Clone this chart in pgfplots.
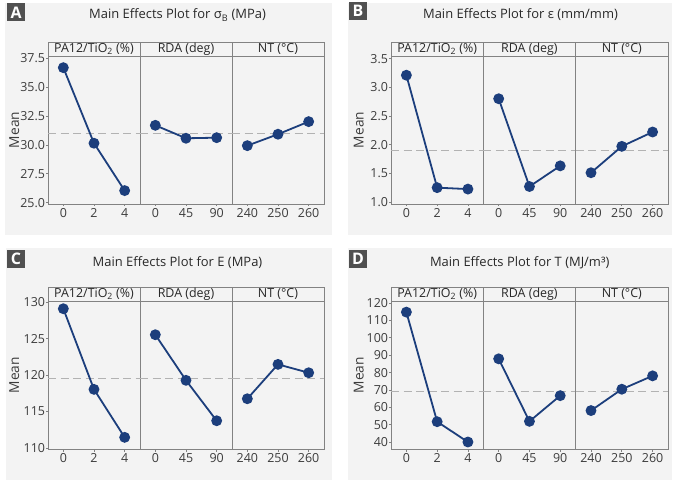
\documentclass[border=0pt]{standalone}
\usepackage{pgfplots}
\pgfplotsset{compat=1.18}
\usepackage{fontspec}
\setmainfont{Open Sans}
\definecolor{bg}{RGB}{243,243,243}
\definecolor{frame}{RGB}{130,130,130}
\definecolor{tick}{RGB}{60,60,60}
\definecolor{ttl}{RGB}{40,40,40}
\definecolor{ser}{RGB}{28,62,124}
\definecolor{meanc}{RGB}{178,178,178}
\definecolor{boxc}{RGB}{80,80,80}
\pgfplotsset{
  sub/.style={scale only axis, width=92bp, height=148bp, anchor=south west,
    xmin=-0.5, xmax=2.5, xtick={0,1,2},
    axis line style={draw=frame, line width=0.9bp},
    every tick/.style={draw=frame, line width=0.7bp},
    major tick length=2.2bp, tick align=outside,
    xtick pos=left, ytick pos=left,
    ticklabel style={font=\fontsize{12.5}{14}\selectfont, text=tick},
    yticklabel style={inner sep=0.6bp},
    xticklabel style={inner sep=2bp},
    /pgf/number format/assume math mode=true,
    clip=false},
  first/.style={ylabel=Mean,
    ylabel style={font=\fontsize{13.8}{15}\selectfont, text=tick,
      at={(axis description cs:-0.367,0.5)}, anchor=center}},
  other/.style={ytick=\empty},
  ser/.style={color=ser, line width=1.8bp, mark=*, mark size=4.5bp, mark options={fill=ser, draw=ser}},
  meanl/.style={color=meanc, line width=1.6bp, dash pattern=on 8bp off 4.5bp},
}
\newcommand{\hdr}[4]{% x1 x2 ytop text
  \draw[draw=frame, line width=0.9bp, fill=bg] (#1bp,-#3bp) rectangle (#2bp,-\the\numexpr#3+14\relax bp);
  \node[font=\fontsize{12.5}{14}\selectfont, text=ttl, inner sep=0pt] at ({(#1+#2)/2*1bp},{-(#3+7.3)*1bp}) {#4};}
\newcommand{\lbox}[3]{% x y letter
  \fill[boxc] (#1bp,-#2bp) rectangle ({(#1+18)*1bp},{-(#2+18)*1bp});
  \node[font=\bfseries\fontsize{16}{16}\selectfont, text=white, inner sep=0pt] at ({(#1+9)*1bp},{-(#2+9.3)*1bp}) {#3};}
\begin{document}
\begin{tikzpicture}
\useasboundingbox (0,0) rectangle (676bp,-482bp);
\fill[white] (0,0) rectangle (676bp,-482bp);
% panel backgrounds
\fill[bg] (5bp,-3bp) rectangle (332bp,-235bp);
\fill[bg] (348bp,-3bp) rectangle (672bp,-235bp);
\fill[bg] (6bp,-248bp) rectangle (332bp,-480bp);
\fill[bg] (348bp,-248bp) rectangle (672bp,-480bp);
\lbox{7}{3}{A}
\lbox{349}{2}{B}
\lbox{7}{250}{C}
\lbox{349}{250}{D}
\node[font=\fontsize{13}{16}\selectfont, text=ttl] at (177.5bp,-15bp) {Main Effects Plot for σ\textsubscript{B} (MPa)};
\node[font=\fontsize{13}{16}\selectfont, text=ttl] at (520.5bp,-15bp) {Main Effects Plot for ε (mm/mm)};
\node[font=\fontsize{13}{16}\selectfont, text=ttl] at (177.5bp,-263bp) {Main Effects Plot for E (MPa)};
\node[font=\fontsize{13}{16}\selectfont, text=ttl] at (519.7bp,-263bp) {Main Effects Plot for T (MJ/m³)};
% headers
\hdr{48}{140}{42}{PA12/TiO\textsubscript{2} (\%)}
\hdr{140}{232}{42}{RDA (deg)}
\hdr{232}{324}{42}{NT (°C)}
\hdr{391}{483.3}{42}{PA12/TiO\textsubscript{2} (\%)}
\hdr{483.3}{575.6}{42}{RDA (deg)}
\hdr{575.6}{668}{42}{NT (°C)}
\hdr{48}{140}{287}{PA12/TiO\textsubscript{2} (\%)}
\hdr{140}{232}{287}{RDA (deg)}
\hdr{232}{324}{287}{NT (°C)}
\hdr{391}{483.3}{287}{PA12/TiO\textsubscript{2} (\%)}
\hdr{483.3}{575.6}{287}{RDA (deg)}
\hdr{575.6}{668}{287}{NT (°C)}
% ---------- Panel A ----------
\begin{axis}[sub, first, at={(48bp,-204bp)}, ymin=24.89, ymax=37.7,
  ytick={25,27.5,30,32.5,35,37.5}, yticklabels={25.0,27.5,30.0,32.5,35.0,37.5},
  xticklabels={0,2,4}]
\addplot[meanl] coordinates {(-0.5,31.0) (2.5,31.0)};
\addplot[ser] coordinates {(0,36.69) (1,30.15) (2,26.05)};
\end{axis}
\begin{axis}[sub, other, at={(140bp,-204bp)}, ymin=24.89, ymax=37.7, xticklabels={0,45,90}]
\addplot[meanl] coordinates {(-0.5,31.0) (2.5,31.0)};
\addplot[ser] coordinates {(0,31.70) (1,30.58) (2,30.63)};
\end{axis}
\begin{axis}[sub, other, at={(232bp,-204bp)}, ymin=24.89, ymax=37.7, xticklabels={240,250,260}]
\addplot[meanl] coordinates {(-0.5,31.0) (2.5,31.0)};
\addplot[ser] coordinates {(0,29.94) (1,30.93) (2,32.02)};
\end{axis}
% ---------- Panel B ----------
\begin{axis}[sub, first, at={(391bp,-204bp)}, width=92.3bp, ymin=0.965, ymax=3.545,
  ytick={1,1.5,2,2.5,3,3.5}, yticklabels={1.0,1.5,2.0,2.5,3.0,3.5},
  xticklabels={0,2,4}, ylabel style={at={(axis description cs:-0.35,0.5)}}]
\addplot[meanl] coordinates {(-0.5,1.90) (2.5,1.90)};
\addplot[ser] coordinates {(0,3.21) (1,1.25) (2,1.225)};
\end{axis}
\begin{axis}[sub, other, at={(483.3bp,-204bp)}, width=92.3bp, ymin=0.965, ymax=3.545, xticklabels={0,45,90}]
\addplot[meanl] coordinates {(-0.5,1.90) (2.5,1.90)};
\addplot[ser] coordinates {(0,2.80) (1,1.27) (2,1.63)};
\end{axis}
\begin{axis}[sub, other, at={(575.6bp,-204bp)}, width=92.4bp, ymin=0.965, ymax=3.545, xticklabels={240,250,260}]
\addplot[meanl] coordinates {(-0.5,1.90) (2.5,1.90)};
\addplot[ser] coordinates {(0,1.51) (1,1.97) (2,2.22)};
\end{axis}
% ---------- Panel C ----------
\begin{axis}[sub, first, at={(48bp,-449.3bp)}, height=148.3bp, ymin=109.82, ymax=130.18,
  ytick={110,115,120,125,130}, xticklabels={0,2,4}]
\addplot[meanl] coordinates {(-0.5,119.56) (2.5,119.56)};
\addplot[ser] coordinates {(0,129.12) (1,118.05) (2,111.46)};
\end{axis}
\begin{axis}[sub, other, at={(140bp,-449.3bp)}, height=148.3bp, ymin=109.82, ymax=130.18, xticklabels={0,45,90}]
\addplot[meanl] coordinates {(-0.5,119.56) (2.5,119.56)};
\addplot[ser] coordinates {(0,125.55) (1,119.29) (2,113.74)};
\end{axis}
\begin{axis}[sub, other, at={(232bp,-449.3bp)}, height=148.3bp, ymin=109.82, ymax=130.18, xticklabels={240,250,260}]
\addplot[meanl] coordinates {(-0.5,119.56) (2.5,119.56)};
\addplot[ser] coordinates {(0,116.76) (1,121.48) (2,120.33)};
\end{axis}
% ---------- Panel D ----------
\begin{axis}[sub, first, at={(391bp,-449.3bp)}, width=92.3bp, height=148.3bp, ymin=35.8, ymax=121.2,
  ytick={40,50,60,70,80,90,100,110,120}, xticklabels={0,2,4},
  ylabel style={at={(axis description cs:-0.35,0.5)}}]
\addplot[meanl] coordinates {(-0.5,69.0) (2.5,69.0)};
\addplot[ser] coordinates {(0,114.8) (1,51.7) (2,40.0)};
\end{axis}
\begin{axis}[sub, other, at={(483.3bp,-449.3bp)}, width=92.3bp, height=148.3bp, ymin=35.8, ymax=121.2, xticklabels={0,45,90}]
\addplot[meanl] coordinates {(-0.5,69.0) (2.5,69.0)};
\addplot[ser] coordinates {(0,87.9) (1,51.9) (2,66.7)};
\end{axis}
\begin{axis}[sub, other, at={(575.6bp,-449.3bp)}, width=92.4bp, height=148.3bp, ymin=35.8, ymax=121.2, xticklabels={240,250,260}]
\addplot[meanl] coordinates {(-0.5,69.0) (2.5,69.0)};
\addplot[ser] coordinates {(0,58.1) (1,70.4) (2,78.1)};
\end{axis}
\end{tikzpicture}
\end{document}
